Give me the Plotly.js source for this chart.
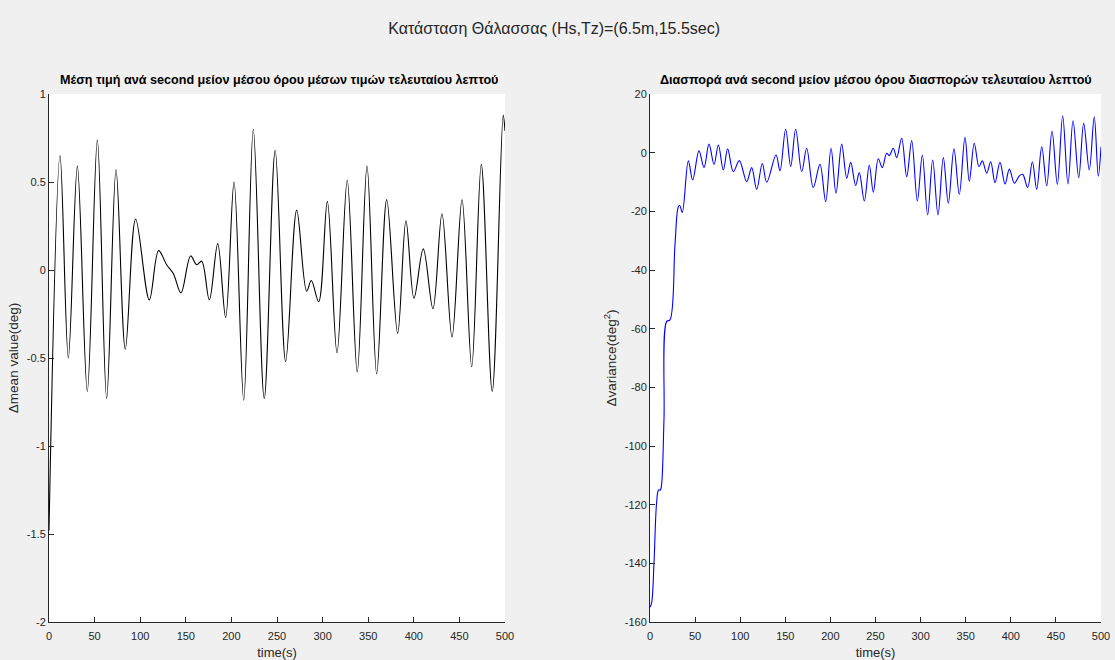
<!DOCTYPE html>
<html>
<head>
<meta charset="utf-8">
<script src="https://cdn.plot.ly/plotly-3.0.1.min.js"></script>
<style>html,body{margin:0;padding:0;background:#f0f0f0;}#chart{width:1115px;height:660px;}</style>
</head>
<body>
<div id="chart"></div>
<script>
// Left panel: mean value difference (deg) vs time (s)
var meanT = [0, 12.1, 21.2, 31.1, 42, 53, 63.2, 73.5, 83.7, 95,
  110, 120.2, 129, 136.3, 144.7, 155.3, 162, 167.4, 175.8, 185,
  193.7, 202.9, 213.5, 224, 236, 248, 259.5, 271.6, 282.5, 287.6,
  295.7, 305.2, 315.8, 327, 338, 348.7, 359.3, 370.3, 382.3, 391.4,
  400.2, 410.4, 421, 430.9, 441.9, 452.9, 463.5, 474, 486, 498, 500];
var meanV = [-1.48, 0.65, -0.50, 0.59, -0.69, 0.74, -0.73, 0.57, -0.45, 0.29,
  -0.17, 0.11, 0.03, -0.02, -0.13, 0.08, 0.03, 0.05, -0.17, 0.15,
  -0.27, 0.50, -0.74, 0.80, -0.73, 0.68, -0.52, 0.34, -0.12, -0.06,
  -0.18, 0.39, -0.47, 0.51, -0.58, 0.59, -0.59, 0.40, -0.36, 0.28,
  -0.16, 0.12, -0.22, 0.32, -0.38, 0.40, -0.55, 0.60, -0.69, 0.88, 0.79];

// Right panel: variance difference (deg^2) vs time (s)
var varT = [0, 1.9, 4.4, 7.4, 9.5, 11.5, 13, 15.5, 18.5, 22.2,
  27.7, 31.4, 33, 35.8, 42.5, 47.3, 54.3, 59.9, 65.4, 71,
  75.8, 81.3, 86.1, 92.4, 99, 107.2, 112.7, 118.3, 124.5, 129.4,
  139.7, 144.1, 150.4, 156, 161.5, 168.2, 173.7, 181, 188.4, 194.8,
  200.7, 206.2, 212.5, 218.1, 222.5, 228, 232, 237.6, 243.1, 247.6,
  253.1, 257.5, 262.4, 265.3, 269.7, 273.5, 279, 284.6, 290.1, 296.4,
  301.9, 307.8, 313.4, 319.3, 325.2, 330.7, 337, 342.9, 349.2, 354,
  359.5, 364.7, 368.4, 373.3, 377.7, 382.5, 388, 393.6, 398.4, 403.9,
  409.5, 413.2, 418.7, 423.9, 428.7, 434.3, 439.8, 445.7, 451.6, 457.5,
  463.4, 469, 475.3, 480.8, 487, 492.5, 497, 500];
var varV = [-155, -153.3, -140, -119, -115, -115, -112.6, -91, -57.5, -57,
  -31.4, -18.4, -18, -20.4, -2.8, -9.3, 0.6, -5.1, 2.9, -4,
  2.6, -5.9, 1.3, -6.5, -2.7, -9.9, -5.1, -12.5, -3.7, -10.1,
  -0.8, -6.2, 8, -4.7, 8, -6.5, 1.5, -11.9, -4, -16.7,
  1.5, -13.8, 2.9, -8.7, -3.3, -11.2, -6.8, -16.5, -4.2, -13.5,
  -2.1, -5.1, -0.2, -1.0, 1.5, -1.7, 4.9, -8.2, 4.1, -16.5,
  -0.8, -21.2, -2.5, -21.2, -1.7, -17.2, 1.3, -14.2, 5.2, -9.7,
  3.2, -4.8, -2.8, -7, -3.1, -10.2, -3.3, -10.7, -5.6, -10.4,
  -7.9, -7.4, -11.9, -3.1, -12.5, 2, -11.3, 7.4, -10.8, 12.6,
  -10.7, 10.9, -8.5, 10, -5.9, 12.2, -8, 2];

var xTicks = [0, 50, 100, 150, 200, 250, 300, 350, 400, 450, 500];
var meanTicks = [1, 0.5, 0, -0.5, -1, -1.5, -2];
var varTicks = [20, 0, -20, -40, -60, -80, -100, -120, -140, -160];

var mainTitle = 'Κατάσταση Θάλασσας (Hs,Tz)=(6.5m,15.5sec)';
var leftTitle = 'Μέση τιμή ανά second μείον μέσου όρου μέσων τιμών τελευταίου λεπτού';
var rightTitle = 'Διασπορά ανά second μείον μέσου όρου διασπορών τελευταίου λεπτού';

var FONT = 'Liberation Sans, Arial, Helvetica, sans-serif';
var AX = '#262626';

var traces = [
  {x: meanT, y: meanV, type: 'scatter', mode: 'lines', xaxis: 'x', yaxis: 'y',
   line: {color: '#000000', width: 1.1, shape: 'spline', smoothing: 1}, hoverinfo: 'x+y'},
  {x: varT, y: varV, type: 'scatter', mode: 'lines', xaxis: 'x2', yaxis: 'y2',
   line: {color: '#0000ff', width: 1.1, shape: 'spline', smoothing: 1}, hoverinfo: 'x+y'}
];

function xAxis(dom, anchor) {
  return {domain: dom, anchor: anchor, range: [0, 500], tickvals: xTicks, ticktext: xTicks.map(String),
    ticks: 'inside', ticklen: 5, tickcolor: AX, showline: true, linecolor: AX, linewidth: 1,
    ticklabelstandoff: 4,
    showgrid: false, zeroline: false, tickfont: {family: FONT, size: 11, color: AX},
    title: {text: 'time(s)', font: {family: FONT, size: 13, color: AX}, standoff: 7}};
}
function yAxis(anchor, range, ticks, title) {
  return {domain: [38/660, 566/660], anchor: anchor, range: range, tickvals: ticks, ticktext: ticks.map(String),
    ticks: 'inside', ticklen: 5, tickcolor: AX, showline: true, linecolor: AX, linewidth: 1,
    showgrid: false, zeroline: false, tickfont: {family: FONT, size: 11, color: AX},
    title: {text: title, font: {family: FONT, size: 13.5, color: AX}, standoff: 5}};
}

var layout = {
  width: 1115, height: 660,
  paper_bgcolor: '#f0f0f0', plot_bgcolor: '#ffffff',
  margin: {l: 0, r: 0, t: 0, b: 0},
  showlegend: false,
  title: {text: mainTitle, x: 0.497, xanchor: 'center', y: 1 - 28/660, yanchor: 'middle', yref: 'container',
    font: {family: FONT, size: 16, color: '#262626'}},
  xaxis: xAxis([49/1115, 505/1115], 'y'),
  yaxis: yAxis('x', [-2, 1], meanTicks, 'Δmean value(deg)'),
  xaxis2: xAxis([650/1115, 1101/1115], 'y2'),
  yaxis2: yAxis('x2', [-160, 20], varTicks, 'Δvariance(deg<sup>2</sup>)'),
  annotations: [
    {text: '<b>' + leftTitle + '</b>', xref: 'paper', yref: 'paper', x: 279/1115, y: (660-80)/660,
     xanchor: 'center', yanchor: 'middle', showarrow: false, font: {family: FONT, size: 12.6, color: '#000'}},
    {text: '<b>' + rightTitle + '</b>', xref: 'paper', yref: 'paper', x: 876/1115, y: (660-80)/660,
     xanchor: 'center', yanchor: 'middle', showarrow: false, font: {family: FONT, size: 12.6, color: '#000'}}
  ]
};

Plotly.newPlot('chart', traces, layout, {displayModeBar: false, staticPlot: true});
</script>
</body>
</html>
